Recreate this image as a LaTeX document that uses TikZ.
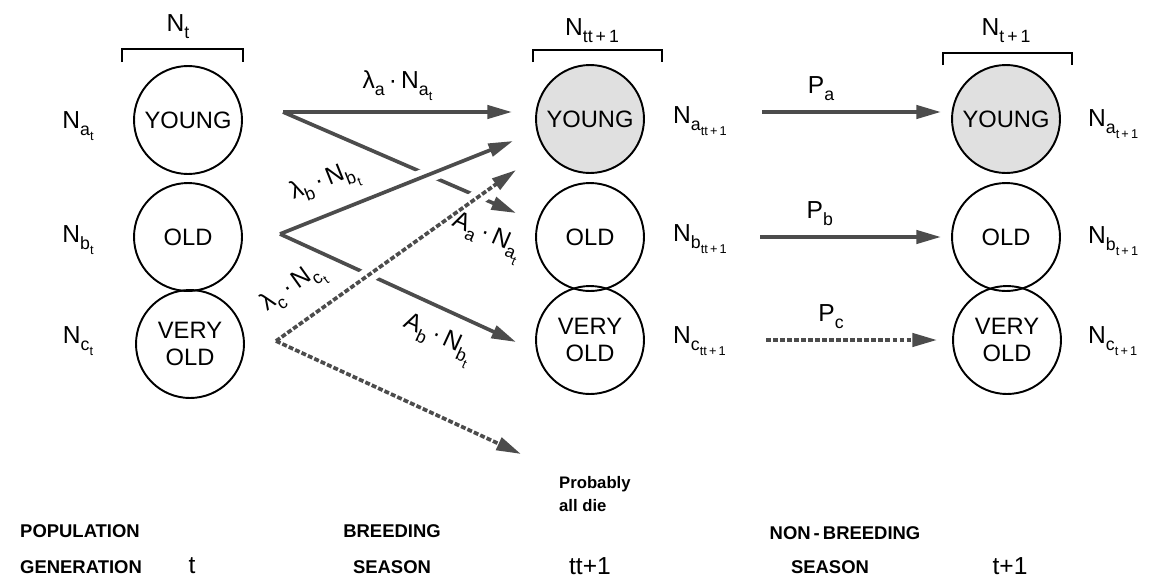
\documentclass[tikz,border=0pt]{standalone}
\usepackage{fontspec}
\setmainfont{Liberation Sans}
\usepackage{graphicx}
\usetikzlibrary{arrows.meta}
\newcommand\dn[1]{\raisebox{-0.55ex}{\scalebox{0.72}{#1}}}

\begin{document}
\begin{tikzpicture}[x=0.02cm,y=-0.02cm,
	stage/.style={draw,circle,minimum size=2.16cm,inner sep=0pt,line width=1.1pt,align=center,font=\fontsize{13.5}{15}\selectfont},
	young/.style={stage,fill=black!12},
	flow/.style={draw=black!70,line width=2.1pt,-{Triangle[length=14pt,width=7.5pt]}},
	flowdot/.style={flow,dash pattern=on 2.8pt off 1.2pt},
	over/.style={preaction={draw=white,line width=9pt,shorten <=22pt,shorten >=16pt,-}},
	size/.style={font=\fontsize{14}{16}\selectfont},
	tag/.style={font=\bfseries\fontsize{10.5}{12}\selectfont}]
		\useasboundingbox (0,0) rectangle (1162,582);

		% age classes
		\node[stage] (ta) at (188,120) {YOUNG};
		\node[stage] (tb) at (188,237) {OLD};
		\node[stage] (tc) at (190,344) {VERY\\OLD};
		\node[young] (ma) at (590,119) {YOUNG};
		\node[stage] (mb) at (590,237) {OLD};
		\node[stage] (mc) at (590,340) {VERY\\OLD};
		\node[young] (na) at (1006,119) {YOUNG};
		\node[stage] (nb) at (1006,237) {OLD};
		\node[stage] (nc) at (1007,340) {VERY\\OLD};

		% brackets
		\draw[line width=1.1pt](122,62)--(122,49)--(243,49)--(243,62);
		\draw[line width=1.1pt](533,62)--(533,50)--(662,50)--(662,62);
		\draw[line width=1.1pt](943,65)--(943,53)--(1072,53)--(1072,65);
		\node[size] (nt) at (178,27) {N\dn{t}};
		\node[size] (ntt) at (592,31) {N\dn{tt\,+\,1}};
		\node[size] (nt1) at (1006,31) {N\dn{t\,+\,1}};

		% sizes of classes
		\node[size] (lta) at (78,126) {N\dn{a\dn{t}}};
		\node[size] (ltb) at (78,240) {N\dn{b\dn{t}}};
		\node[size] (ltc) at (78,341) {N\dn{c\dn{t}}};
		\node[size,anchor=west] (lma) at (667,121) {N\dn{a\dn{tt\,+\,1}}};
		\node[size,anchor=west] (lmb) at (667,239) {N\dn{b\dn{tt\,+\,1}}};
		\node[size,anchor=west] (lmc) at (667,341) {N\dn{c\dn{tt\,+\,1}}};
		\node[size,anchor=west] (lna) at (1082,124) {N\dn{a\dn{t\,+\,1}}};
		\node[size,anchor=west] (lnb) at (1082,241) {N\dn{b\dn{t\,+\,1}}};
		\node[size,anchor=west] (lnc) at (1082,341) {N\dn{c\dn{t\,+\,1}}};

		% ends of the flows
		\coordinate (ya) at (283,112);
		\coordinate (ob) at (280,234);
		\coordinate (vc) at (276,341);
		\coordinate (ya-in) at (512,112);
		\coordinate (oa-in) at (516,213);
		\coordinate (yb-in) at (513,141);
		\coordinate (vb-in) at (516,342);
		\coordinate (yc-in) at (516,170);
		\coordinate (die) at (521,454);
		\coordinate (pa-out) at (762,112);
		\coordinate (pa-in) at (941,112);
		\coordinate (pb-out) at (760,237);
		\coordinate (pb-in) at (941,237);
		\coordinate (pc-out) at (766,340);
		\coordinate (pc-in) at (937,340);

		% breeding season
		\draw[flow](ya)--(ya-in) node[midway,above=2pt,size]{λ\dn{a}\,·\,N\dn{a\dn{t}}};
		\draw[flow](ya)--(oa-in);
		\draw[flow](ob)--(vb-in) node[pos=0.72,below=5pt,sloped,size]{A\dn{b}\,·\,N\dn{b\dn{t}}};
		\draw[flow,over](ob)--(yb-in) node[pos=0.24,above=4pt,sloped,size]{λ\dn{b}\,·\,N\dn{b\dn{t}}};
		\draw[flowdot,over](vc)--(yc-in) node[pos=0.15,above=5pt,sloped,size]{λ\dn{c}\,·\,N\dn{c\dn{t}}};
		\path(ya)--(oa-in) node[pos=0.93,below=8pt,sloped,size]{A\dn{a}\,·\,N\dn{a\dn{t}}};
		\draw[flowdot](vc)--(die);
		\node[anchor=west,align=left,font=\bfseries\fontsize{9.5}{13}\selectfont] (dead) at (553,494) {Probably\\all die};

		% non-breeding season
		\draw[flow](pa-out)--(pa-in) node[pos=0.33,above=2pt,size]{P\dn{a}};
		\draw[flow](pb-out)--(pb-in) node[pos=0.33,above=2pt,size]{P\dn{b}};
		\draw[flowdot](pc-out)--(pc-in) node[pos=0.38,above=2pt,size]{P\dn{c}};

		% time axis
		\node[tag,anchor=west] (pop) at (14,531) {POPULATION};
		\node[tag,anchor=west] (gen) at (14,567) {GENERATION};
		\node[size] (gt) at (192,566) {t};
		\node[tag] (br) at (392,531) {BREEDING};
		\node[tag] (brs) at (392,567) {SEASON};
		\node[size] (gtt) at (590,566) {tt+1};
		\node[tag] (nbr) at (845,533) {NON\,-\,BREEDING};
		\node[tag] (nbrs) at (830,567) {SEASON};
		\node[size] (gt1) at (1010,566) {t+1};

	    \end{tikzpicture}
\end{document}
